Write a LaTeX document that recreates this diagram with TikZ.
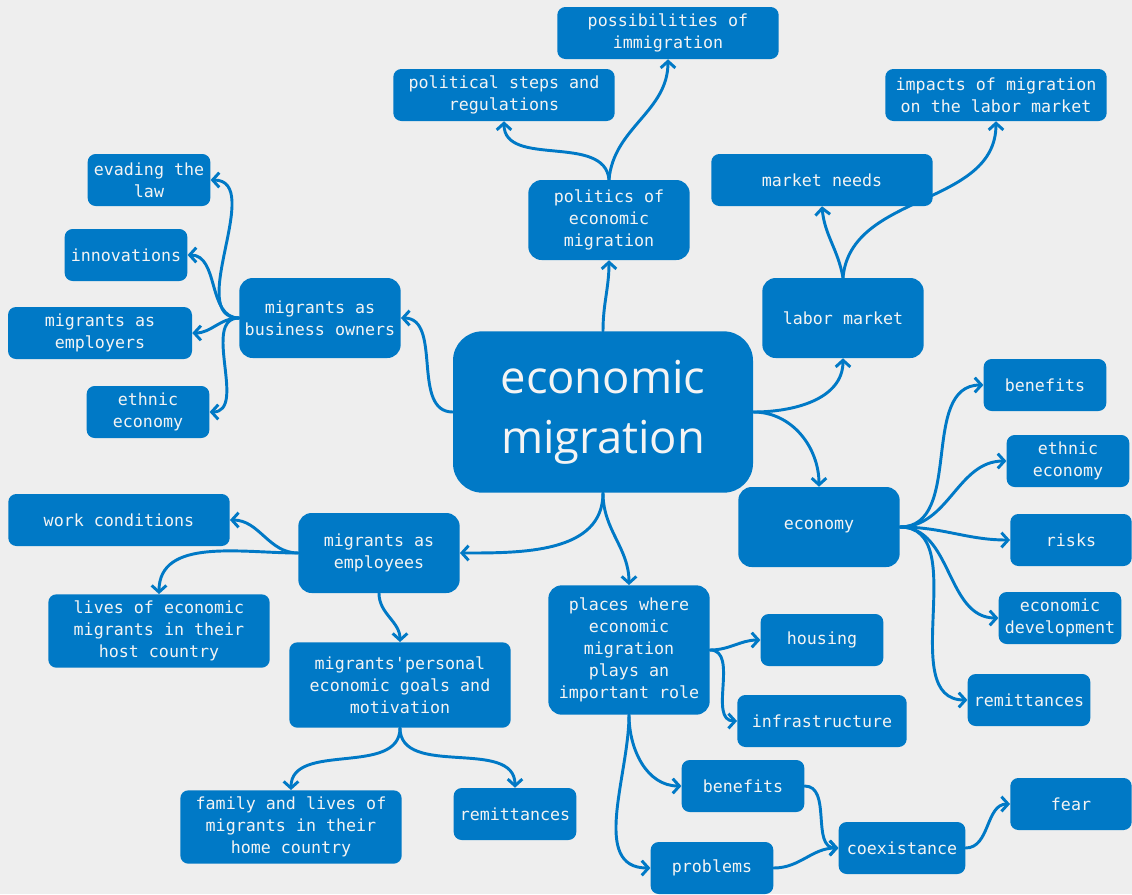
\documentclass[tikz,border=0pt]{standalone}
\usepackage{fontspec}
\setmonofont{DejaVu Sans Mono}
\newfontfamily\hubfont{Open Sans}
\usepackage{tikz}
\usetikzlibrary{arrows.meta}

\definecolor{mapblue}{HTML}{0079C6}
\definecolor{mapbg}{HTML}{EEEEEE}
\definecolor{maptext}{HTML}{F4F4F4}

\begin{document}
\begin{tikzpicture}[x=0.75pt, y=0.75pt,
                topic/.style={fill=mapblue, text=maptext, align=center, inner sep=2pt,
                              font=\ttfamily\fontsize{12.5}{16.5}\selectfont},
                leafwide/.style={topic, minimum width=166pt, minimum height=39pt, rounded corners=6pt},
                leafsmall/.style={topic, minimum width=92pt, minimum height=39pt, rounded corners=6pt},
                branchbox/.style={topic, minimum width=121pt, minimum height=60pt, rounded corners=10pt},
                link/.style={draw=mapblue, line width=2.2pt, line cap=round,
                             -{Straight Barb[length=5pt, width=11pt]}}]

                % page
                \path[fill=mapbg, use as bounding box] (0,0) rectangle (1132,-894);

                % centre of the map
                \node[branchbox, minimum width=225pt, minimum height=121pt, rounded corners=22pt,
                      font=\hubfont\fontsize{34}{45}\selectfont] (hub) at (603,-412)
                    {economic\\migration};

                % politics branch (top)
                \node[branchbox] (politics) at (609,-220) {politics of\\economic\\migration};
                \node[leafwide] (steps) at (504,-95) {political steps and\\regulations};
                \node[leafwide] (options) at (668,-33) {possibilities of\\immigration};

                % labor market branch (top right)
                \node[branchbox] (labor) at (843,-318) {labor market};
                \node[leafwide] (needs) at (822,-180) {market needs};
                \node[leafwide] (impacts) at (996,-95) {impacts of migration\\on the labor market};

                % business owners branch (left)
                \node[branchbox] (owners) at (320,-318) {migrants as\\business owners};
                \node[leafsmall] (evading) at (149,-180) {evading the\\law};
                \node[leafsmall] (innov) at (126,-255) {innovations};
                \node[leafsmall, minimum width=138pt] (employers) at (100,-333) {migrants as\\employers};
                \node[leafsmall] (ethnicL) at (148,-412) {ethnic\\economy};

                % economy branch (right)
                \node[branchbox] (economy) at (819,-527) {economy};
                \node[leafsmall] (benefitsR) at (1045,-385) {benefits};
                \node[leafsmall] (ethnicR) at (1068,-461) {ethnic\\economy};
                \node[leafsmall, minimum width=91pt] (risks) at (1071,-540) {risks};
                \node[leafsmall] (devel) at (1060,-618) {economic\\development};
                \node[leafsmall] (remitR) at (1029,-700) {remittances};

                % employees branch (bottom left)
                \node[branchbox] (employees) at (379,-553) {migrants as\\employees};
                \node[leafwide] (work) at (119,-520) {work conditions};
                \node[leafwide, minimum height=55pt] (host) at (159,-631)
                    {lives of economic\\migrants in their\\host country};
                \node[leafwide, minimum height=64pt] (goals) at (400,-685)
                    {migrants'personal\\economic goals and\\motivation};
                \node[leafwide, minimum height=55pt] (home) at (291,-827)
                    {family and lives of\\migrants in their\\home country};
                \node[leafsmall] (remitB) at (515,-814) {remittances};

                % places branch (bottom)
                \node[branchbox, minimum height=97pt] (places) at (629,-650)
                    {places where\\economic\\migration\\plays an\\important role};
                \node[leafsmall] (housing) at (822,-640) {housing};
                \node[leafsmall, minimum width=127pt] (infra) at (822,-721) {infrastructure};
                \node[leafsmall] (benefitsB) at (743,-786) {benefits};
                \node[leafsmall] (problems) at (712,-868) {problems};
                \node[leafsmall, minimum width=95pt] (coexist) at (902,-848) {coexistance};
                \node[leafsmall, minimum width=91pt] (fear) at (1071,-804) {fear};

                % links from the centre
                \draw[link] (hub.north) to[out=90, in=-90] (politics.south);
                \draw[link] (hub.east) to[out=0, in=-90] (labor.south);
                \draw[link] (hub.east) to[out=0, in=90] (economy.north);
                \draw[link] (hub.west) to[out=180, in=0] (owners.east);
                \draw[link] (hub.south) to[out=-90, in=0] (employees.east);
                \draw[link] (hub.south) to[out=-90, in=90] (places.north);

                % politics
                \draw[link] (politics.north) to[out=95, in=-90] (steps.south);
                \draw[link] (politics.north) to[out=85, in=-90] (options.south);

                % labor market
                \draw[link] (labor.north) to[out=100, in=-85] (needs.south);
                \draw[link] (labor.north) to[out=85, in=-90] (impacts.south);

                % business owners
                \draw[link] (owners.west) to[out=180, in=0] (evading.east);
                \draw[link] (owners.west) to[out=180, in=0] (innov.east);
                \draw[link] (owners.west) to[out=180, in=0] (employers.east);
                \draw[link] (owners.west) to[out=180, in=0] (ethnicL.east);

                % economy
                \draw[link] (economy.east) to[out=0, in=180] (benefitsR.west);
                \draw[link] (economy.east) to[out=0, in=180] (ethnicR.west);
                \draw[link] (economy.east) to[out=0, in=180] (risks.west);
                \draw[link] (economy.east) to[out=0, in=180] (devel.west);
                \draw[link] (economy.east) to[out=0, in=180] (remitR.west);

                % employees
                \draw[link] (employees.west) to[out=180, in=0] (work.east);
                \draw[link] (employees.west) to[out=180, in=90] (host.north);
                \draw[link] (employees.south) to[out=-90, in=90] (goals.north);
                \draw[link] (goals.south) to[out=-90, in=90] (home.north);
                \draw[link] (goals.south) to[out=-90, in=90] (remitB.north);

                % places
                \draw[link] (places.east) to[out=0, in=180] (housing.west);
                \draw[link] (places.east) to[out=0, in=180] (infra.west);
                \draw[link] (places.south) to[out=-90, in=180] (benefitsB.west);
                \draw[link] (places.south) to[out=-90, in=180] (problems.west);
                \draw[link] (benefitsB.east) to[out=0, in=180] (coexist.west);
                \draw[link] (problems.east) to[out=0, in=180] (coexist.west);
                \draw[link] (coexist.east) to[out=0, in=180] (fear.west);
            \end{tikzpicture}
\end{document}
